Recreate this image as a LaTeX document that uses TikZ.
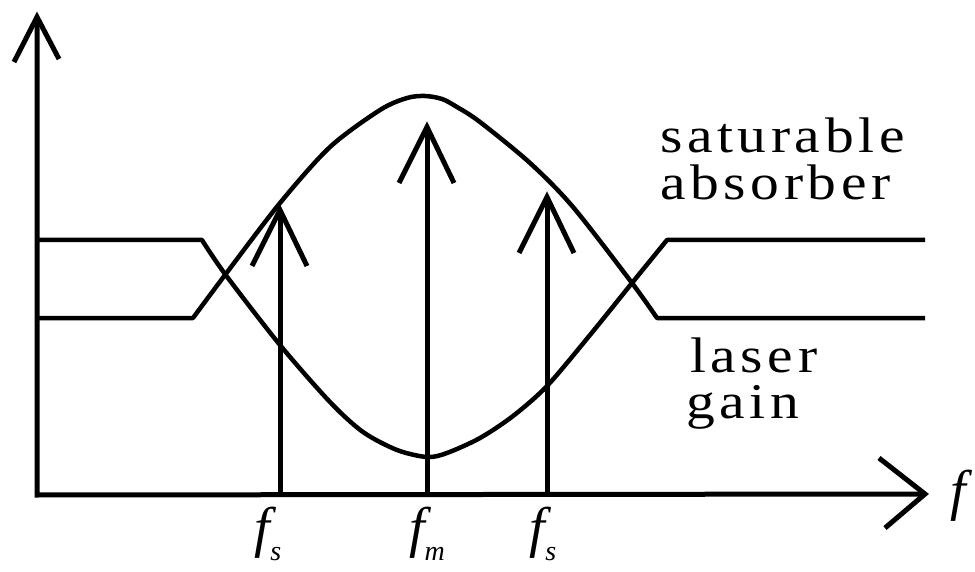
\documentclass[tikz,border=0pt]{standalone}
\usepackage{fontspec}
\usepackage{graphicx}
\setmainfont{Liberation Serif}
\newfontfamily\lblfont[LetterSpace=8]{Liberation Serif}
\newcommand\widetxt[1]{\scalebox{1.15}[1]{#1}}
\begin{document}
\begin{tikzpicture}[x=1pt,y=-1pt,
  ln/.style={line width=5pt, line cap=butt, line join=miter},
  crv/.style={line width=4.5pt, line cap=butt, line join=round},
  lbl/.style={inner sep=0pt, anchor=base west, font=\lblfont\fontsize{50}{50}\selectfont},
  flbl/.style={inner sep=0pt, anchor=base, font=\fontsize{56}{56}\selectfont\itshape}]
\useasboundingbox (0,0) rectangle (975,572);
% axes
\coordinate (O) at (37,495);
\coordinate (Ytip) at (37,17);
\coordinate (Xtip) at (925,494);
\draw[ln] (Ytip) -- (O) -- (Xtip);
\draw[ln] (Ytip) ++(-23,45) -- (Ytip) -- ++(22,42);
\draw[ln] (Xtip) ++(-46,-36) -- (Xtip) -- ++(-40,34);
% laser gain curve
\draw[crv] (37,318) -- plot[smooth] coordinates {(193,318) (225,275) (280,203) (330,147) (380,110) (407,98) (425,96) (442,99) (457,107) (480,122) (530,163) (573,207) (632,283) (657,318)} -- (925,318);
% saturable absorber curve
\draw[crv] (37,240) -- plot[smooth] coordinates {(202,240) (225,274) (280,345) (330,402) (363,432) (397,450) (427,457) (447,453) (480,438) (513,416) (547,386) (590,335) (632,283) (667,240)} -- (925,240);
% spectral lines
\coordinate (b1) at (280,495); \coordinate (t1) at (280,210);
\coordinate (b2) at (427,495); \coordinate (t2) at (427,127);
\coordinate (b3) at (547,495); \coordinate (t3) at (547,197);
\foreach \i in {1,2,3}{
  \draw[ln] (b\i) -- (t\i);
  \draw[ln] (t\i) ++(-28,56) -- (t\i) -- ++(27,56);
}
% labels
\node[lbl] (sat) at (660,153) {\widetxt{saturable}};
\node[lbl] (abs) at (660,200) {\widetxt{absorber}};
\node[lbl] (las) at (690,372) {\widetxt{laser}};
\node[lbl] (gai) at (686,418) {\widetxt{gain}};
\node[flbl] (fs1) at (268,546) {f\raisebox{-14pt}{\fontsize{28}{28}\selectfont s}};
\node[flbl] (fm)  at (427,546) {f\raisebox{-14pt}{\fontsize{28}{28}\selectfont m}};
\node[flbl] (fs2) at (543,546) {f\raisebox{-14pt}{\fontsize{28}{28}\selectfont s}};
\node[flbl] (fx)  at (958,509) {f};
\end{tikzpicture}
\end{document}
